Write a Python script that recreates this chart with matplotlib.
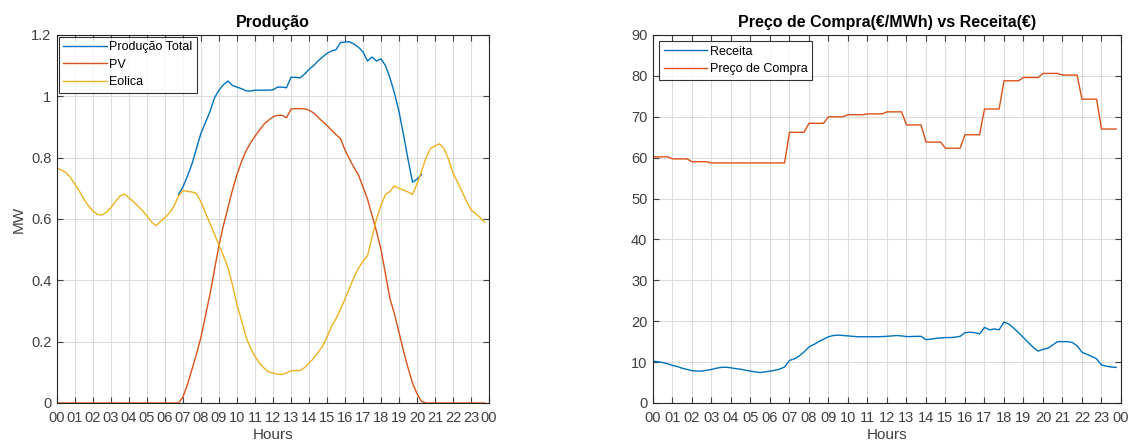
import numpy as np
import matplotlib.pyplot as plt
from matplotlib.ticker import FormatStrFormatter

plt.rcParams['font.family'] = ['Liberation Sans', 'DejaVu Sans']

# quarter-hour time axis, 00:00 .. 23:45
horas = np.arange(96) / 4.0
tick_horas = list(range(25))
tick_labels = ['%02d' % (h % 24) for h in tick_horas]

eolica = [0.765, 0.760, 0.751, 0.735, 0.713, 0.690, 0.664, 0.643,
          0.626, 0.615, 0.613, 0.622, 0.637, 0.657, 0.675, 0.681,
          0.669, 0.656, 0.642, 0.627, 0.610, 0.590, 0.578, 0.592,
          0.604, 0.620, 0.642, 0.675, 0.693, 0.690, 0.688, 0.683,
          0.655, 0.620, 0.585, 0.550, 0.515, 0.480, 0.440, 0.385,
          0.320, 0.270, 0.215, 0.180, 0.152, 0.130, 0.114, 0.102,
          0.097, 0.094, 0.093, 0.098, 0.105, 0.106, 0.106, 0.115,
          0.130, 0.145, 0.165, 0.185, 0.215, 0.250, 0.275, 0.305,
          0.340, 0.375, 0.410, 0.440, 0.462, 0.480, 0.540, 0.600,
          0.645, 0.680, 0.690, 0.708, 0.700, 0.694, 0.688, 0.680,
          0.715, 0.755, 0.800, 0.830, 0.838, 0.845, 0.830, 0.795,
          0.750, 0.720, 0.690, 0.658, 0.630, 0.618, 0.605, 0.590]

pv = [0.0] * 27 + [
          0.000, 0.020, 0.060, 0.110, 0.160,
          0.215, 0.285, 0.355, 0.435, 0.515, 0.580, 0.637, 0.695,
          0.745, 0.787, 0.822, 0.848, 0.870, 0.890, 0.909, 0.922,
          0.933, 0.938, 0.938, 0.930, 0.958, 0.960, 0.960, 0.959,
          0.955, 0.946, 0.932, 0.918, 0.905, 0.890, 0.875, 0.862,
          0.825, 0.795, 0.768, 0.743, 0.705, 0.665, 0.612, 0.560,
          0.500, 0.420, 0.340, 0.290, 0.230, 0.170, 0.115, 0.065,
          0.030, 0.005] + [0.0] * 14

total = [np.nan] * 27 + [
          0.680, 0.705, 0.740, 0.780, 0.830,
          0.880, 0.915, 0.950, 0.995, 1.020, 1.038, 1.050, 1.035,
          1.030, 1.025, 1.018, 1.017, 1.020, 1.020, 1.020, 1.020,
          1.021, 1.030, 1.030, 1.028, 1.062, 1.062, 1.060, 1.072,
          1.088, 1.100, 1.115, 1.128, 1.140, 1.148, 1.152, 1.175,
          1.177, 1.178, 1.170, 1.160, 1.145, 1.115, 1.128, 1.115,
          1.122, 1.100, 1.060, 1.010, 0.950, 0.875, 0.795, 0.720,
          0.730, 0.745] + [np.nan] * 14

# hourly purchase price (each hour held for its four quarters)
preco_hora = [60.2, 59.7, 59.0, 58.7, 58.7, 58.7, 58.7, 66.2, 68.4, 70.0,
              70.5, 70.7, 71.2, 68.0, 63.8, 62.3, 65.6, 71.9, 78.8, 79.6,
              80.6, 80.2, 74.3, 67.0]
preco = np.repeat(preco_hora, 4)

receita = [10.2, 10.1, 9.9, 9.6, 9.2, 8.9, 8.5, 8.2,
           7.9, 7.8, 7.8, 8.0, 8.2, 8.5, 8.7, 8.75,
           8.6, 8.4, 8.25, 8.0, 7.8, 7.6, 7.45, 7.6,
           7.8, 8.0, 8.3, 8.8, 10.4, 10.8, 11.5, 12.5,
           13.7, 14.3, 15.0, 15.6, 16.2, 16.5, 16.6, 16.5,
           16.4, 16.3, 16.2, 16.2, 16.2, 16.2, 16.2, 16.25,
           16.3, 16.4, 16.5, 16.4, 16.25, 16.25, 16.3, 16.3,
           15.5, 15.6, 15.8, 15.9, 16.0, 16.0, 16.1, 16.3,
           17.2, 17.3, 17.2, 16.9, 18.5, 17.9, 18.1, 17.9,
           19.8, 19.3, 18.3, 17.2, 16.0, 14.8, 13.6, 12.7,
           13.1, 13.4, 14.2, 15.0, 15.0, 15.0, 14.8, 14.0,
           12.4, 11.9, 11.4, 10.8, 9.3, 9.0, 8.8, 8.7]

azul = '#0072BD'
laranja = '#D95319'
amarelo = '#EDB120'
cinza = '#404040'


def estilo(ax):
    ax.set_xlim(0, 24)
    ax.set_xticks(tick_horas)
    ax.set_xticklabels(tick_labels)
    ax.grid(True, color='#dcdcdc', linewidth=0.8)
    ax.set_axisbelow(True)
    ax.tick_params(direction='in', top=True, right=True, length=4,
                   labelsize=10.5, colors=cinza)
    ax.tick_params(axis='x', pad=6)
    ax.tick_params(axis='y', pad=4)
    for s in ax.spines.values():
        s.set_color('#262626')
        s.set_linewidth(0.8)
    ax.set_xlabel('Hours', fontsize=11, color=cinza, labelpad=2)


fig = plt.figure(figsize=(11.33, 4.45), dpi=100)

ax1 = fig.add_axes([0.0503, 0.0944, 0.3813, 0.827])
ax1.plot(horas, total, color=azul, lw=1.0, label='Produção Total')
ax1.plot(horas, pv, color=laranja, lw=1.0, label='PV')
ax1.plot(horas, eolica, color=amarelo, lw=1.0, label='Eolica')
ax1.set_ylim(0, 1.2)
ax1.set_yticks([0, 0.2, 0.4, 0.6, 0.8, 1.0, 1.2])
ax1.yaxis.set_major_formatter(FormatStrFormatter('%g'))
estilo(ax1)
ax1.set_ylabel('MW', fontsize=11, color=cinza, labelpad=4)
ax1.set_title('Produção', fontsize=11.5, fontweight='bold', color='black', pad=6)
leg1 = ax1.legend(loc='upper left', fontsize=9, fancybox=False,
                  edgecolor='black', borderaxespad=0.15, handlelength=3.5,
                  handletextpad=0.2, labelspacing=0.45, borderpad=0.35)
leg1.get_frame().set_linewidth(0.8)

ax2 = fig.add_axes([0.5763, 0.0944, 0.4131, 0.827])
ax2.plot(horas, receita, color=azul, lw=1.0, label='Receita')
ax2.plot(horas, preco, color=laranja, lw=1.0, label='Preço de Compra')
ax2.set_ylim(0, 90)
ax2.set_yticks(range(0, 91, 10))
estilo(ax2)
ax2.set_title('Preço de Compra(€/MWh) vs Receita(€)', fontsize=11.5,
              fontweight='bold', color='black', pad=6)
leg2 = ax2.legend(loc='upper left', fontsize=9, fancybox=False,
                  edgecolor='black', borderaxespad=0.5, handlelength=3.5,
                  handletextpad=0.2, labelspacing=0.45, borderpad=0.35)
leg2.get_frame().set_linewidth(0.8)

fig.savefig('out.png', dpi=100, facecolor='white')
